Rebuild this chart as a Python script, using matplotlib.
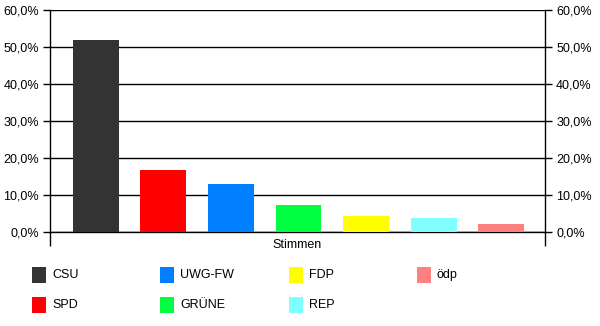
import numpy as np
import matplotlib.pyplot as plt
from matplotlib.patches import Rectangle

# data
parties = ["CSU", "SPD", "UWG-FW", "GRÜNE", "FDP", "REP", "ödp"]
shares = [51.9, 16.8, 13.0, 7.3, 4.3, 3.8, 2.2]
colors = ["#333333", "#ff0000", "#0080ff", "#00ff40", "#ffff00", "#80ffff", "#ff8080"]
yticks = [0, 10, 20, 30, 40, 50, 60]
ylabels = ["0,0%", "10,0%", "20,0%", "30,0%", "40,0%", "50,0%", "60,0%"]
category = "Stimmen"

plt.rcParams['font.family'] = ['Liberation Sans', 'DejaVu Sans']
plt.rcParams['font.size'] = 9

W, H = 600, 326
fig = plt.figure(figsize=(W / 100, H / 100), dpi=100)
ax = fig.add_axes([50 / W, 1 - 232 / H, 495 / W, 222 / H])

x = np.arange(len(parties))
ax.bar(x, shares, width=0.68, color=colors, zorder=3)

ax.set_ylim(0, 60)
ax.set_xlim(-0.68, 6.65)
ax.set_yticks(yticks)
ax.set_yticklabels(ylabels)
ax.yaxis.grid(True, color="black", linewidth=1)
ax.set_axisbelow(True)
ax.tick_params(axis="y", which="both", direction="out", length=5, width=1,
               left=True, right=True, labelleft=True, labelright=True, pad=3)

# category axis: ticks only at the two ends
ax.set_xticks(ax.get_xlim())
ax.set_xticklabels(["", ""])
ax.tick_params(axis="x", direction="out", length=10, width=1)
ax.text(0.5, -0.03, category, transform=ax.transAxes, ha="center", va="top")

ax.spines["top"].set_visible(False)
for s in ["left", "right", "bottom"]:
    ax.spines[s].set_linewidth(1)

# legend drawn by hand, two rows, four columns
for i, (name, c) in enumerate(zip(parties, colors)):
    col, row = i // 2, i % 2
    px = 32 + 128.3 * col
    py = 267 + 30 * row
    fig.add_artist(Rectangle((px / W, 1 - (py + 16) / H), 14 / W, 16 / H,
                             transform=fig.transFigure, facecolor=c, edgecolor="none"))
    fig.text((px + 20) / W, 1 - (py + 8) / H, name, ha="left", va="center")

fig.savefig("out.png", dpi=100)
